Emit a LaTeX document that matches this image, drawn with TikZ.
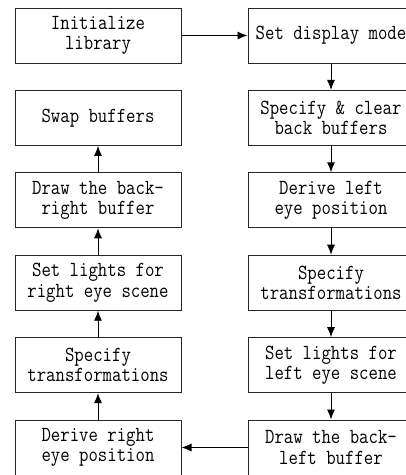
\documentclass[tikz,border=0pt]{standalone}
\usepackage{fontspec}
\newfontfamily\reffont[FakeStretch=0.85]{Latin Modern Mono}
\usetikzlibrary{arrows.meta}
\begin{document}
\begin{tikzpicture}[x=1pt,y=-1pt,
  box/.style={draw=black!85, line width=1pt, minimum width=166pt, minimum height=55pt,
    inner sep=0pt, align=center, font=\reffont\fontsize{21.5}{20.5}\selectfont},
  arr/.style={line width=0.9pt, -{Latex[length=10pt,width=8pt]}}]
\useasboundingbox (0,0) rectangle (406,475);
% left column
\node[box] (init)  at (98,35.5)  {Initialize\\library};
\node[box] (swap)  at (98,117.9) {Swap buffers};
\node[box] (drawr) at (98,200.3) {Draw the back-\\right buffer};
\node[box] (lightr) at (98,282.7) {Set lights for\\right eye scene};
\node[box] (transr) at (98,365.1) {Specify\\transformations};
\node[box] (derr)  at (98,447.5) {Derive right\\eye position};
% right column
\node[box] (mode)  at (331,35.5)  {Set display mode};
\node[box] (clear) at (331,117.9) {Specify \& clear\\back buffers};
\node[box] (derl)  at (331,200.3) {Derive left\\eye position};
\node[box] (transl) at (331,282.7) {Specify\\transformations};
\node[box] (lightl) at (331,365.1) {Set lights for\\left eye scene};
\node[box] (drawl) at (331,447.5) {Draw the back-\\left buffer};
% arrows
\draw[arr] (init) -- (mode);
\draw[arr] (mode) -- (clear);
\draw[arr] (clear) -- (derl);
\draw[arr] (derl) -- (transl);
\draw[arr] (transl) -- (lightl);
\draw[arr] (lightl) -- (drawl);
\draw[arr] (drawl) -- (derr);
\draw[arr] (derr) -- (transr);
\draw[arr] (transr) -- (lightr);
\draw[arr] (lightr) -- (drawr);
\draw[arr] (drawr) -- (swap);
\end{tikzpicture}
\end{document}
